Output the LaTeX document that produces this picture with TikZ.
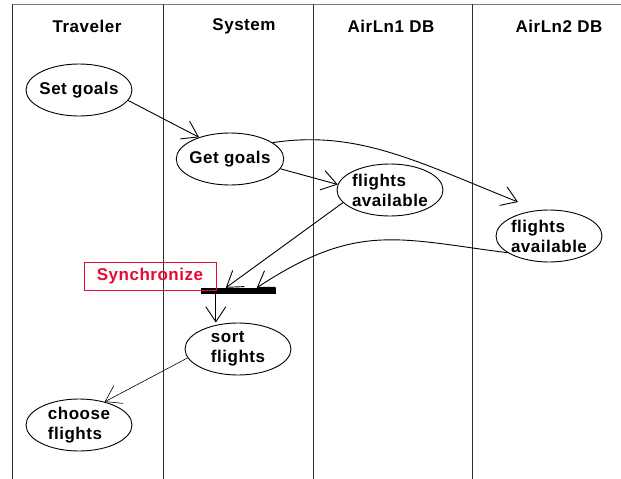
\documentclass[tikz,border=0pt]{standalone}
\usepackage{fontspec}
\setmainfont[LetterSpace=3]{Liberation Sans}
\usetikzlibrary{shapes.geometric,arrows.meta}
\definecolor{syncred}{RGB}{228,10,50}
\definecolor{lanegray}{RGB}{45,45,45}
\definecolor{topgray}{RGB}{120,120,120}
\begin{document}
\begin{tikzpicture}[x=1pt,y=-1pt,
  lbl/.style={font=\fontsize{17}{20}\selectfont\bfseries},
  head/.style={lbl, inner sep=0pt},
  act/.style={ellipse, draw, line width=0.9pt, lbl, align=left,
    minimum width=106pt, minimum height=52pt, inner xsep=-2.5pt, inner ysep=-3pt},
  flow/.style={line width=0.9pt, -{Straight Barb[length=15pt,width=20pt]}},
  lane/.style={line width=1pt, draw=lanegray},
]
\useasboundingbox (0,0) rectangle (621,479);

% swimlane frame
\draw[line width=1pt, draw=topgray] (12,4) -- (621,4);
\draw[lane] (12,4) -- (12,479);
\draw[lane] (163,4) -- (163,479);
\draw[lane] (313,4) -- (313,479);
\draw[lane] (472,4) -- (472,479);

% lane headings
\node[head] (hTrav) at (87,26) {Traveler};
\node[head] (hSys)  at (244,26) {System};
\node[head] (hAir1) at (391,26) {AirLn1 DB};
\node[head] (hAir2) at (559,26) {AirLn2 DB};

% activities
\node[act] (setg)   at (79,90)   {Set goals};
\node[act] (getg)   at (230,159) {Get goals};
\node[act] (fl1)    at (390,190) {flights\\available};
\node[act] (fl2)    at (549,236) {flights\\available};
\node[act] (sortf)  at (238,349) {sort\\flights};
\node[act] (choose) at (79,425)  {choose\\flights};

% synchronisation bar and its label
\node[fill=black, minimum width=75pt, minimum height=6pt, inner sep=0pt] (bar) at (238.5,291) {};
\node[draw=syncred, line width=0.8pt, text=syncred, lbl, minimum width=132pt,
  minimum height=28pt, inner sep=0pt] (sync) at (150,276) {Synchronize};

% control flow
\draw[flow] (setg.-12) -- (getg.145);
\draw[flow] (getg.-11) -- (fl1.174);
\draw[flow] (getg.21) .. controls +(85,-13) and +(-100,-40) .. ([shift={(-31,-34)}]fl2.center);
\draw[flow] (fl1.195) -- ([xshift=25pt]bar.north west);
\draw[flow] (fl2.202) .. controls +(-110,-14) and +(100,-66) .. ([xshift=56pt]bar.north west);
\draw[flow] ([xshift=15pt]bar.south west) -- ([xshift=15pt]bar.south west |- sortf.north);
\draw[flow, line width=0.6pt] (sortf.190) -- (choose.42);
\end{tikzpicture}
\end{document}
